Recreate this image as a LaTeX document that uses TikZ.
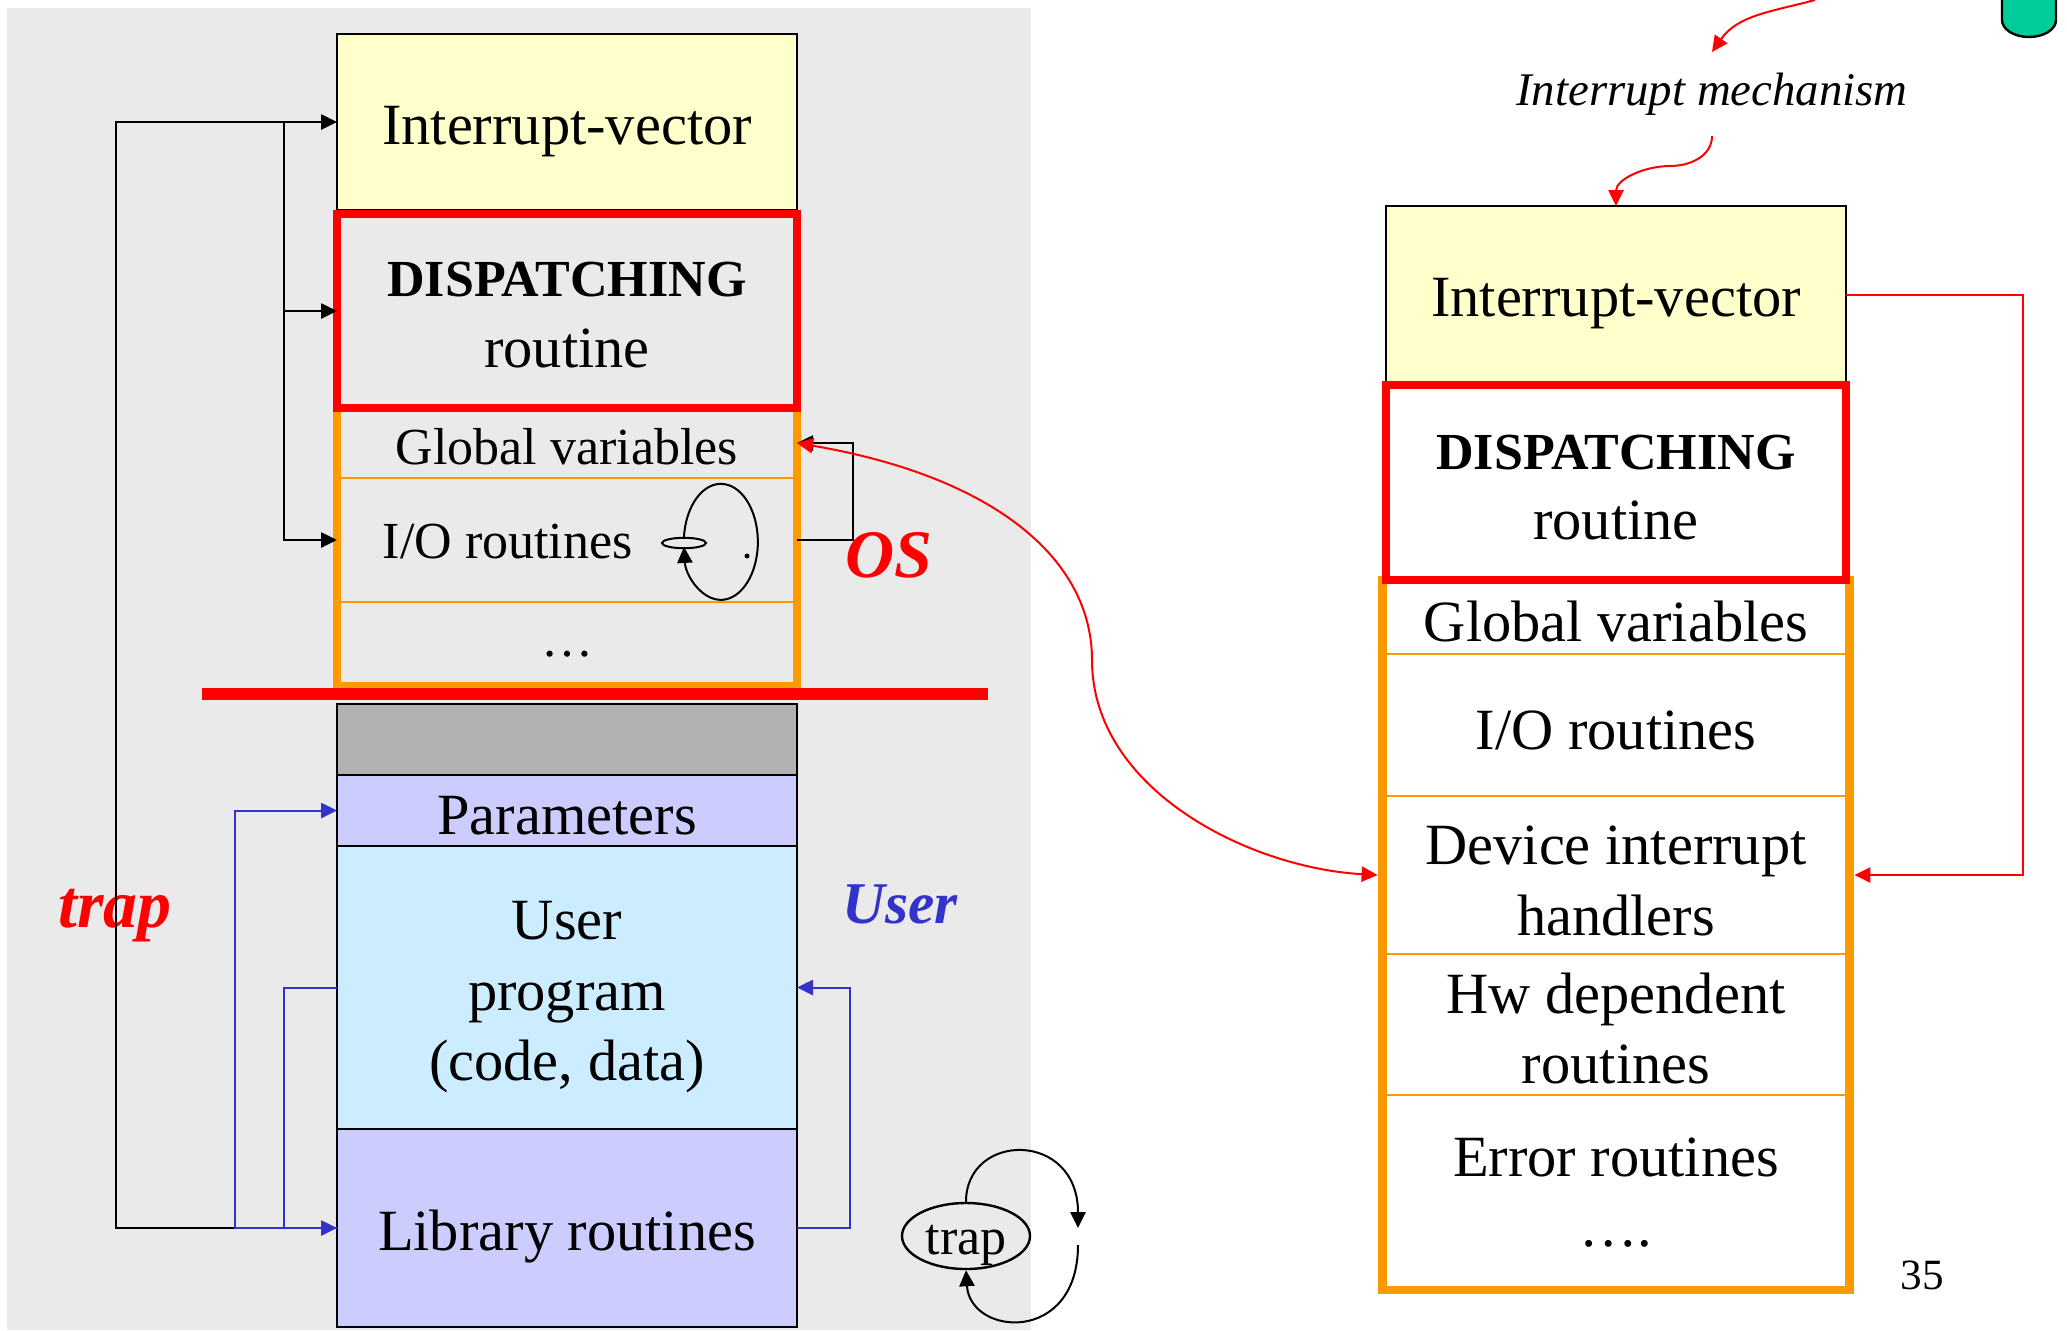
\documentclass[tikz,border=0pt]{standalone}
\usepackage{fontspec}
\setmainfont{Liberation Serif}
\usetikzlibrary{positioning,arrows.meta,fit,shapes.geometric}
\definecolor{panelgray}{HTML}{EAEAEA}
\definecolor{ivyellow}{HTML}{FFFFCC}
\definecolor{topgray}{HTML}{B2B2B2}
\definecolor{lavender}{HTML}{CCCCFF}
\definecolor{progblue}{HTML}{CCECFF}
\definecolor{osorange}{HTML}{FF9900}
\definecolor{userblue}{HTML}{3333CC}
\definecolor{cylgreen}{HTML}{00CC99}

\begin{document}
\begin{tikzpicture}[x=0.25pt,y=0.25pt,>={Triangle[length=4pt,width=3.8pt]},
	cell/.style={draw, line width=0.6pt, minimum width=115pt, inner sep=0pt, outer sep=0pt, align=center, font=\fontsize{14.6}{17.6}\selectfont},
	mem/.style={cell, execute at begin node={\rule{0pt}{#1}}}, mem/.default=14.2pt,
	osrow/.style={cell, draw=osorange, line width=0.5pt, execute at begin node={\rule{0pt}{12.5pt}}},
	smallrow/.style={cell, draw=osorange, line width=0.5pt, font=\fontsize{13}{15.6}\selectfont, execute at begin node={\rule{0pt}{11pt}}},
	dispatch/.style={cell, draw=red, line width=1.8pt},
	osframe/.style={draw=osorange, line width=1.8pt, inner sep=0pt},
	arrow/.style={draw=black, line width=0.5pt, ->},
	userarrow/.style={arrow, draw=userblue},
	redarrow/.style={arrow, draw=red},
	tag/.style={font=\fontsize{17}{20}\selectfont\bfseries\itshape, anchor=base}]
	\useasboundingbox (0,0) rectangle (2067,-1330);
	\fill[panelgray] (7,-8) rectangle (1031,-1330);

	\node[mem, fill=ivyellow, minimum height=44pt] (ivL) at (567,-122) {Interrupt-vector};
	\node[smallrow, minimum height=17.5pt] (globL) at (567,-443) {Global variables};
	\node[smallrow, minimum height=31pt, below=0pt of globL] (ioL) {};
	\node[smallrow, minimum height=21pt, below=0pt of ioL] (dotsL) {\strut…};
	\node[osframe, fit=(globL)(dotsL)] (osL) {};
	\node[dispatch, minimum height=48.5pt, above=0pt of globL] (dispL) {\rule{0pt}{10.6pt}{\bfseries\fontsize{13}{17}\selectfont DISPATCHING}\\routine};
	\node[font=\fontsize{13}{15.6}\selectfont, anchor=base west, inner sep=0pt] (ioText) at (382,-558) {I/O routines};
	\node[ellipse, draw, line width=0.5pt, minimum width=11pt, minimum height=2.6pt, inner sep=0pt] (hole) at (684,-543) {};
	\draw[arrow] (hole.north) arc[start angle=175, end angle=-175, x radius=37, y radius=58];
	\fill (747,-556) circle[radius=2.5];
	\draw[red, line width=3.2pt] (202,-694) -- (988,-694);

	\node[mem, fill=topgray, minimum height=17.75pt] (grayL) at (567,-739.5) {};
	\node[mem=12pt, fill=lavender, minimum height=17.75pt, below=0pt of grayL] (parL) {Parameters};
	\node[mem, fill=progblue, minimum height=70.75pt, below=0pt of parL] (progL) {\rule{0pt}{14.4pt}User\\program\\(code, data)};
	\node[mem, fill=lavender, minimum height=49.5pt, below=0pt of progL] (libL) {Library routines};

	\node[tag, text=red] (osTag) at (889,-577) {OS};
	\node[tag, text=red] (trapTag) at (115,-927) {trap};
	\node[tag, text=userblue, font=\fontsize{14.8}{18}\selectfont\bfseries\itshape] (userTag) at (900,-923) {User};

	\path (ivL.west) ++(-53,0) coordinate (fan);
	\draw[arrow] (libL.west) -- ++(-221,0) |- (ivL.west);
	\draw[arrow] (fan) |- (dispL.west);
	\draw[arrow] (fan) |- (ioL.west);
	\draw[arrow] (ioL.east) -- ++(56,0) |- (globL.east);
	\draw[userarrow] (libL.west) -- ++(-102,0) |- (parL.west);
	\draw[userarrow] (progL.west) -- ++(-53,0) |- (libL.west);
	\draw[userarrow] (libL.east) -- ++(53,0) |- (progL.east);

	\node[ellipse, draw, line width=0.6pt, minimum width=32pt, minimum height=16.5pt, inner sep=0pt, font=\fontsize{13}{15.6}\selectfont] (trapN) at (966,-1236) {\raisebox{-4.6pt}[0pt][0pt]{trap}};
	\coordinate (loopA) at (1078,-1228);
	\coordinate (loopB) at (1078,-1245);
	\draw[arrow] (trapN.north) .. controls +(0,70) and +(0,98) .. (loopA);
	\draw[arrow] (loopB) .. controls +(0,-100) and +(4,-66) .. (trapN.south);

	\node[mem, fill=ivyellow, minimum height=44.25pt] (ivR) at (1616,-294.5) {Interrupt-vector};
	\node[osrow, minimum height=18.5pt] (globR) at (1616,-617) {Global variables};
	\node[osrow, minimum height=35.5pt, below=0pt of globR] (ioR) {I/O routines};
	\node[osrow, minimum height=39.5pt, below=0pt of ioR] (devR) {\rule{0pt}{12.6pt}Device interrupt\\handlers};
	\node[osrow, minimum height=35.25pt, below=0pt of devR] (hwR) {\rule{0pt}{12.2pt}Hw dependent\\routines};
	\node[osrow, minimum height=48.75pt, below=0pt of hwR] (errR) {Error routines\\….};
	\node[osframe, inner xsep=1.2pt, fit=(globR)(errR)] (osR) {};
	\node[dispatch, minimum height=48.75pt, above=0pt of globR] (dispR) {\rule{0pt}{11.2pt}{\bfseries\fontsize{13}{17}\selectfont DISPATCHING}\\routine};

	\node[font=\fontsize{11.7}{14}\selectfont\itshape, inner ysep=5pt] (mech) at (1712,-94) {Interrupt mechanism};
	\coordinate (src) at (1815,0);
	\draw[redarrow] (src) to[out=195,in=55] (mech.north);
	\draw[redarrow] (mech.south) to[out=-90,in=0] (1670,-166) to[out=180,in=90] (ivR.north);
	\draw[redarrow] (ivR.east) -- ++(177,0) |- (osR.east |- devR.center);
	\draw[redarrow, <->] (globL.east) .. controls (996,-477) and (1092,-560) .. (1092,-660) .. controls (1092,-790) and (1250,-868) .. (osR.west |- devR.center);

	\draw[fill=cylgreen, line width=0.6pt] (2002,0) -- (2002,-20) arc[start angle=180, end angle=360, x radius=27, y radius=17] -- (2056,0);
	\node[font=\fontsize{10.8}{13}\selectfont, anchor=base] (pageNo) at (1922,-1289) {35};
\end{tikzpicture}
\end{document}
